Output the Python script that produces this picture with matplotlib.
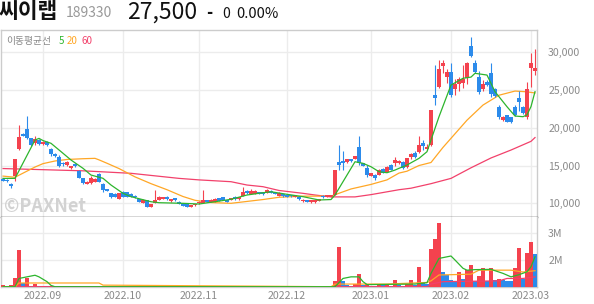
import matplotlib
matplotlib.use('Agg')
import matplotlib.pyplot as plt
import numpy as np

plt.rcParams['font.family'] = ['Noto Sans CJK KR', 'DejaVu Sans']

# daily candles, index 0 = 2022-08-18 ... 133 = 2023-03-03
opens = [13200, 13150, 12550, 13550, 17150, 19150, 19800, 18600, 18000, 18350,
         17800, 18150, 17150, 16500, 16150, 15350, 15050, 14700, 15150, 14300,
         13300, 12550, 12650, 12850, 13900, 12550, 11850, 11300, 11200, 10600,
         11500, 11450, 11250, 11000, 10550, 10100, 10450, 9500, 10100, 10450,
         10600, 10900, 10250, 10650, 10200, 10050, 9900, 9500, 9800, 10000,
         10100, 10450, 10200, 10200, 10650, 10800, 10450, 10450, 10850, 10550,
         11000, 11650, 11250, 11250, 11450, 11450, 11400, 11600, 11450, 11000,
         11200, 11050, 11100, 10850, 10900, 10250, 10450, 10150, 10150, 10350,
         11000, 10850, 10900, 11100, 15500, 15650, 15500, 15800, 15850, 17500,
         15300, 14650, 13600, 13750, 13750, 14550, 14200, 15050, 15300, 15300,
         15500, 14750, 16100, 16700, 16850, 17950, 17150, 17700, 24350, 25450,
         28150, 26650, 27400, 25100, 25850, 25950, 26550, 30750, 28500, 26750,
         25100, 26100, 27300, 25100, 22700, 21050, 21700, 21400, 22700, 23900,
         22700, 21400, 27850, 27500]
highs = [13300, 13250, 12650, 15900, 20350, 19300, 21550, 18700, 18900, 18500,
         18300, 18250, 17300, 16700, 16350, 15500, 15600, 15000, 15300, 14450,
         13400, 12950, 13600, 13300, 14000, 12750, 11950, 11400, 11300, 11350,
         11600, 11500, 11350, 11100, 10600, 10550, 10500, 9950, 11700, 11000,
         10900, 10950, 10600, 10700, 10250, 10100, 9950, 9800, 9900, 10250,
         11750, 10500, 10550, 10750, 10700, 10850, 10500, 10700, 10950, 10900,
         12200, 11750, 11850, 11700, 11550, 11500, 11850, 11700, 11500, 11500,
         11250, 11100, 11150, 11100, 10950, 10550, 10500, 10450, 10450, 10600,
         11050, 11100, 11150, 14400, 17700, 16950, 15900, 15900, 16300, 18900,
         15400, 15050, 14050, 13900, 14500, 14650, 14900, 15150, 16150, 15700,
         15600, 16000, 16700, 16900, 18900, 18350, 17900, 22400, 28300, 28950,
         28900, 27800, 28500, 26400, 26700, 28300, 28700, 32000, 28900, 27500,
         26300, 26300, 28550, 25300, 22950, 21500, 21750, 21450, 23000, 24800,
         22850, 26100, 29850, 30400]
lows = [12900, 12850, 12050, 12950, 17050, 18850, 18450, 17600, 17700, 17700,
        17650, 17550, 16250, 16100, 14750, 15000, 15000, 14600, 14850, 13300,
        12550, 12500, 12550, 12800, 12800, 11500, 11600, 10750, 10850, 10550,
        10850, 10850, 10850, 10750, 10150, 10050, 9500, 9450, 10050, 10400,
        10550, 10500, 10200, 10350, 9850, 9650, 9500, 9450, 9700, 9950,
        10050, 10150, 10150, 10150, 10300, 10400, 10150, 10400, 10500, 10500,
        10950, 11250, 11200, 11200, 11200, 11150, 11350, 11300, 11200, 10950,
        10900, 10800, 10900, 10800, 10500, 10200, 10150, 10100, 10100, 10300,
        10750, 10800, 10850, 11050, 14400, 14400, 15400, 15500, 15800, 15050,
        14900, 13500, 13550, 13150, 13700, 14000, 14150, 14350, 14900, 15250,
        14600, 14700, 15900, 15950, 16700, 17000, 17000, 17600, 22950, 25200,
        27200, 25900, 24100, 24300, 24900, 25300, 25800, 29400, 27200, 24500,
        24800, 25500, 24100, 24000, 21100, 20950, 20750, 20650, 21550, 22250,
        21800, 21200, 25450, 26950]
closes = [12950, 12950, 12250, 15800, 18800, 18950, 18600, 17650, 18450, 17800,
          18150, 17650, 16500, 16250, 14950, 15150, 15500, 14950, 14950, 13400,
          12650, 12850, 13400, 13250, 12850, 11700, 11650, 10800, 10900, 11300,
          10900, 10900, 10900, 10800, 10200, 10450, 9550, 9850, 10450, 10850,
          10800, 10550, 10550, 10400, 9900, 9700, 9550, 9750, 9850, 10200,
          10450, 10200, 10500, 10550, 10350, 10450, 10200, 10650, 10550, 10850,
          11550, 11300, 11650, 11600, 11250, 11200, 11750, 11350, 11250, 11300,
          10950, 10850, 10950, 11050, 10550, 10500, 10200, 10400, 10400, 10550,
          10800, 11050, 11100, 14400, 15050, 15300, 15800, 15550, 16250, 15300,
          14950, 13750, 13950, 13300, 14400, 14050, 14850, 14400, 15750, 15600,
          14650, 15950, 16500, 16100, 17700, 17600, 17500, 22350, 23950, 27750,
          28500, 27400, 24350, 25800, 26400, 26400, 28500, 29500, 27400, 24750,
          25850, 25650, 24400, 24200, 21450, 21400, 20800, 20700, 21700, 23450,
          21900, 25100, 28500, 27850]
# volume in millions of shares
volume = [1.05, 1.02, 1.08, 1.31, 2.36, 1.15, 1.32, 1.04, 1.12, 1.03,
          1.04, 1.02, 1.03, 1.02, 1.03, 1.02, 1.02, 1.01, 1.02, 1.01,
          1.00, 1.00, 1.00, 1.00, 1.00, 1.00, 1.00, 1.00, 1.00, 1.00,
          1.00, 1.00, 1.00, 1.00, 1.00, 1.00, 1.00, 1.00, 1.08, 1.00,
          1.00, 1.00, 1.00, 1.00, 1.00, 1.00, 1.00, 1.00, 1.00, 1.00,
          1.00, 1.00, 1.00, 1.00, 1.00, 1.00, 1.00, 1.00, 1.00, 1.00,
          1.00, 1.00, 1.00, 1.00, 1.00, 1.00, 1.00, 1.00, 1.00, 1.00,
          1.00, 1.00, 1.00, 1.00, 1.00, 1.00, 1.00, 1.00, 1.00, 1.00,
          1.00, 1.00, 1.00, 1.22, 2.47, 1.22, 1.05, 1.04, 1.12, 1.47,
          1.05, 1.12, 1.04, 1.03, 1.10, 1.05, 1.10, 1.04, 1.27, 1.05,
          1.04, 1.10, 1.25, 1.08, 1.72, 1.19, 1.12, 2.40, 2.77, 3.37,
          1.56, 1.43, 1.25, 1.22, 1.56, 1.29, 1.62, 1.80, 1.22, 1.40,
          1.70, 1.22, 1.70, 1.25, 1.30, 1.25, 1.22, 1.20, 1.71, 2.44,
          1.30, 2.28, 2.67, 2.24]

# moving averages: (candle index, value)
ma5_idx = [0, 3, 8, 9, 10, 12, 15, 17, 20, 22, 25, 27, 30, 32, 37, 39, 45, 49,
           53, 57, 61, 65, 67, 71, 75, 79, 82, 83, 88, 90, 92, 94, 96, 98, 99,
           101, 104, 106, 109, 112, 115, 117, 118, 121, 123, 126, 128, 130, 131,
           132, 133]
ma5_val = [13300, 13300, 18370, 18590, 18300, 17940, 16620, 15730, 14630, 13740,
           13310, 12420, 11320, 10880, 10210, 10080, 10000, 9910, 10210, 10530,
           11100, 11400, 11530, 11190, 10880, 10440, 10500, 11100, 15500, 15290,
           14840, 14180, 14050, 14400, 14630, 15070, 15950, 16830, 21460, 25650,
           26540, 26700, 27200, 26970, 24770, 22780, 21550, 21460, 21700, 22800,
           24770]
ma20_idx = [0, 3, 8, 10, 13, 16, 20, 23, 24, 26, 29, 33, 37, 41, 45, 48, 52, 57,
            61, 65, 69, 75, 82, 87, 92, 96, 99, 101, 104, 107, 110, 116, 120, 124,
            128, 131, 133]
ma20_val = [13600, 13450, 14800, 15250, 15600, 15800, 15900, 15950, 15750, 15300,
            14600, 13500, 12600, 11800, 10900, 10400, 10100, 10000, 10250, 10500,
            10800, 10950, 10950, 11900, 12500, 13100, 14000, 14250, 15000, 15400,
            17400, 21000, 23000, 24300, 24850, 24750, 24600]
ma60_idx = [0, 20, 32, 44, 49, 57, 61, 65, 69, 75, 78, 82, 88, 92, 99, 102, 107,
            112, 117, 122, 127, 132, 133]
ma60_val = [14600, 14300, 13970, 13300, 13100, 12860, 12420, 12200, 11700, 11320,
            11100, 10850, 10850, 11150, 11800, 12000, 12600, 13300, 14700, 16000,
            17050, 18200, 18700]
vma5_idx = [0, 3, 4, 6, 8, 9, 11, 12, 13, 82, 83, 85, 87, 89, 90, 91, 103, 106,
            107, 109, 112, 113, 115, 116, 118, 122, 125, 127, 129, 131, 132, 133]
vma5_val = [1.0, 1.0, 1.31, 1.37, 1.43, 1.37, 1.19, 1.05, 1.0, 1.0, 1.0, 1.31, 1.37,
            1.37, 1.19, 1.08, 1.1, 1.15, 1.5, 2.06, 2.15, 2.0, 1.69, 1.62, 1.64,
            1.65, 1.5, 1.37, 1.45, 1.56, 1.75, 2.12]
vma20_idx = [0, 3, 4, 24, 25, 65, 82, 83, 96, 106, 107, 109, 117, 119, 127, 130,
             133]
vma20_val = [1.0, 1.0, 1.14, 1.14, 1.06, 1.02, 1.0, 1.1, 1.1, 1.16, 1.22, 1.44,
             1.47, 1.62, 1.62, 1.55, 1.6]
vma60_idx = [0, 106, 107, 110, 124, 126, 130, 133]
vma60_val = [1.0, 1.0, 1.1, 1.19, 1.22, 1.31, 1.31, 1.37]

month_idx = [10, 30, 49, 71, 92, 112, 132]
month_lbl = ['2022.09', '2022.10', '2022.11', '2022.12', '2023.01', '2023.02', '2023.03']
price_ticks = [10000, 15000, 20000, 25000, 30000]
vol_ticks = [2, 3]

RED = '#f4424e'
BLUE = '#2c8beb'
C5, C20, C60 = '#2db52d', '#ffa726', '#f2416b'
GRID = '#ececec'
FRAME = '#cccccc'
TXT = '#8a8a8a'

W, H = 594, 304
fig = plt.figure(figsize=(W / 100, H / 100), dpi=100)


def box(x0, y0, x1, y1):
    return [x0 / W, 1 - y1 / H, (x1 - x0) / W, (y1 - y0) / H]


ax = fig.add_axes(box(1, 30, 537, 217))
axv = fig.add_axes(box(1, 217, 537, 287), sharex=ax)

o, h, l, c = map(np.array, (opens, highs, lows, closes))
x = np.arange(len(o))
up = c >= o
col = np.where(up, RED, BLUE)
ax.vlines(x, l, h, colors=col, lw=0.8, zorder=3)
ax.bar(x, np.maximum(np.abs(c - o), 80), bottom=np.minimum(o, c), width=0.78,
       color=col, lw=0, zorder=4)
ax.plot(ma60_idx, ma60_val, color=C60, lw=0.9, zorder=2)
ax.plot(ma20_idx, ma20_val, color=C20, lw=0.9, zorder=2)
ax.plot(ma5_idx, ma5_val, color=C5, lw=0.9, zorder=5)

v = np.array(volume)
vcol = [RED] + [RED if v[i] >= v[i - 1] else BLUE for i in range(1, len(v))]
axv.bar(x, v - 0.5, bottom=0.5, width=0.78, color=vcol, lw=0, zorder=3)
axv.plot(vma60_idx, vma60_val, color=C60, lw=0.9, zorder=4)
axv.plot(vma20_idx, vma20_val, color=C20, lw=0.9, zorder=4)
axv.plot(vma5_idx, vma5_val, color=C5, lw=0.9, zorder=5)

ax.set_xlim(-0.5, 133.5)
ax.set_ylim(8190, 32930)
axv.set_ylim(0.99, 3.61)

for a in (ax, axv):
    a.set_xticks(month_idx)
    a.grid(True, color=GRID, lw=1.0, zorder=0)
    a.set_axisbelow(True)
    a.yaxis.tick_right()
    a.tick_params(length=0, labelsize=7.6, labelcolor=TXT, pad=8)
    for s in ('left', 'right', 'top', 'bottom'):
        a.spines[s].set_color(FRAME)
        a.spines[s].set_linewidth(1.0)

ax.set_yticks(price_ticks)
ax.set_yticklabels(['{:,}'.format(t) for t in price_ticks])
ax.tick_params(axis='x', labelbottom=False)
ax.spines['bottom'].set_color('#333333')
axv.spines['top'].set_visible(False)
axv.set_yticks(vol_ticks)
axv.set_yticklabels(['{}M'.format(t) for t in vol_ticks])
axv.set_xticklabels(month_lbl)
axv.tick_params(axis='x', pad=3)

# header
def ft(px, py, s, **kw):
    fig.text(px / W, 1 - py / H, s, va='center', ha='left', **kw)


ft(-1, 12, '씨이랩', fontsize=15.5, fontweight='bold', color='#111111')
ft(66, 13, '189330', fontsize=10, color='#999999')
ft(127, 12, '27,500', fontsize=16.5, color='#111111')
ft(206, 13, '-', fontsize=12, fontweight='bold', color='#111111')
ft(222, 14, '0', fontsize=10, color='#111111')
ft(236, 14, '0.00%', fontsize=10.5, color='#111111')

# MA legend
ft(6, 41, '이동평균선', fontsize=7, color='#888888')
ft(59, 41, '5', fontsize=7, color=C5)
ft(67, 41, '20', fontsize=7, color=C20)
ft(82, 41, '60', fontsize=7, color=C60)

# watermark
ft(4, 206, '©PAXNet', fontsize=13, fontweight='bold', color='#d2d2d2')

fig.savefig('out.png', dpi=100)
